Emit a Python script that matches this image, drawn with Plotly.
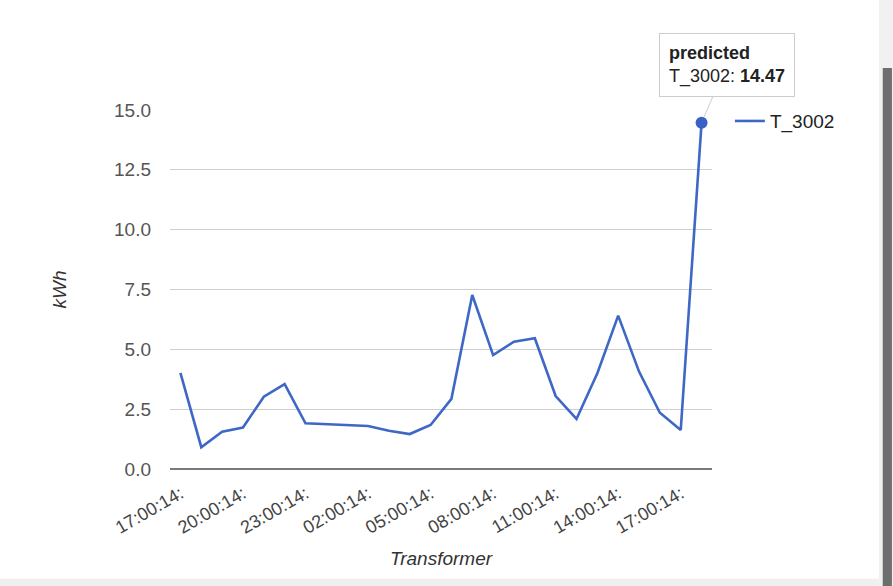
import plotly.graph_objects as go

# Data
hours = list(range(26))  # hourly readings, 17:00 day 1 .. 18:00 day 2
kwh = [4.02, 0.91, 1.56, 1.73, 3.02, 3.55, 1.91, 1.87, 1.83, 1.80, 1.60, 1.46, 1.84,
       2.93, 7.27, 4.76, 5.32, 5.46, 3.05, 2.09, 4.00, 6.41, 4.07, 2.35, 1.63, 14.47]
tick_positions = [0, 3, 6, 9, 12, 15, 18, 21, 24]
tick_labels = ["17:00:14:", "20:00:14:", "23:00:14:", "02:00:14:", "05:00:14:",
               "08:00:14:", "11:00:14:", "14:00:14:", "17:00:14:"]
y_ticks = [0, 2.5, 5, 7.5, 10, 12.5, 15]
series_name = "T_3002"
tooltip_title = "predicted"

FONT = "Liberation Sans, Arial, sans-serif"
BLUE = "#3f67c6"

marker_sizes = [0] * (len(kwh) - 1) + [12]

fig = go.Figure()
fig.add_trace(go.Scatter(
    x=hours, y=kwh, mode="lines+markers", name=series_name,
    line=dict(color=BLUE, width=2.6),
    marker=dict(size=marker_sizes, color="#3a62c4", opacity=1, line=dict(width=0)),
    hoverinfo="skip",
))

fig.update_layout(
    width=893, height=586,
    margin=dict(l=170, r=181, t=110, b=117),
    paper_bgcolor="white", plot_bgcolor="white",
    font=dict(family=FONT, size=19, color="#444"),
    showlegend=True,
    legend=dict(x=1.033, y=1.022, xanchor="left", yanchor="top",
                font=dict(size=19, color="#222"), bgcolor="rgba(0,0,0,0)",
                itemwidth=30),
    xaxis=dict(
        range=[-0.5, 25.5], tickmode="array", tickvals=tick_positions, ticktext=tick_labels,
        tickangle=-30, showgrid=False, zeroline=False, showline=False, ticks="",
        tickfont=dict(size=18, color="#444"), ticklabelstandoff=10,
        title=dict(text="<i>Transformer</i>", font=dict(size=19, color="#333"), standoff=14),
    ),
    yaxis=dict(
        range=[0, 15], tickmode="array", tickvals=y_ticks,
        ticktext=[f"{v:.1f}" for v in y_ticks],
        showgrid=True, gridcolor="#cfcfcf", gridwidth=1,
        zeroline=True, zerolinecolor="#7a7a7a", zerolinewidth=2,
        showline=False, ticks="", ticklabelstandoff=18,
        tickfont=dict(size=19, color="#555"),
        title=dict(text="<i>kWh</i>", font=dict(size=19, color="#333"), standoff=42),
    ),
    annotations=[dict(
        x=hours[-1], y=kwh[-1], xref="x", yref="y",
        text=f"<b>{tooltip_title}</b><br>{series_name}: <b>{kwh[-1]:.2f}</b>",
        align="left", showarrow=True, arrowhead=0, arrowwidth=1, arrowcolor="#cccccc",
        ax=25, ay=-58, standoff=6,
        bgcolor="white", bordercolor="#cccccc", borderwidth=1, borderpad=9,
        font=dict(size=18, color="#222", family=FONT),
    )],
    shapes=[
        # right scrollbar track
        dict(type="rect", xref="paper", yref="paper", x0=1.308, x1=1.34, y0=-0.33, y1=1.31,
             fillcolor="#f1f1f1", line=dict(width=0), layer="below"),
        # scrollbar thumb
        dict(type="rect", xref="paper", yref="paper", x0=1.315, x1=1.332, y0=-0.33, y1=1.117,
             fillcolor="#6e6e6e", line=dict(width=0)),
        # bottom band
        dict(type="rect", xref="paper", yref="paper", x0=-0.32, x1=1.308, y0=-0.33, y1=-0.306,
             fillcolor="#efefef", line=dict(width=0), layer="below"),
    ],
)

fig.write_html("out.html")
